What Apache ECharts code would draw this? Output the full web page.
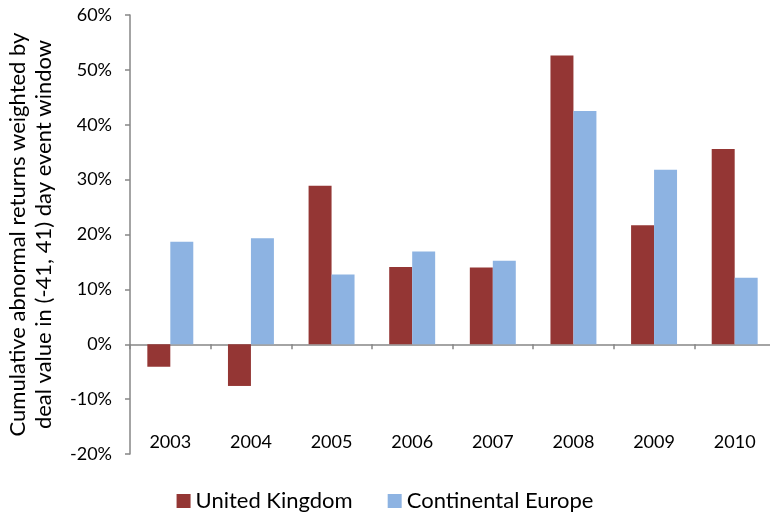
<!DOCTYPE html>
<html><head><meta charset="utf-8">
<script src="https://cdn.jsdelivr.net/npm/echarts@6/dist/echarts.min.js"></script>
<style>html,body{margin:0;padding:0;background:#fff}#c{width:770px;height:518px}</style>
</head><body><div id="c"></div>
<script>
const categories = ['2003','2004','2005','2006','2007','2008','2009','2010'];
const unitedKingdom = [-4.1, -7.6, 28.9, 14.1, 14.0, 52.6, 21.7, 35.6];
const continentalEurope = [18.7, 19.3, 12.7, 16.9, 15.2, 42.5, 31.8, 12.1];
const seriesNames = ['United Kingdom', 'Continental Europe'];
const yTitle = 'Cumulative abnormal returns weighted by\ndeal value in (-41, 41) day event window';
const FONT = 'Lato, "Open Sans", sans-serif';
const chart = echarts.init(document.getElementById('c'));
chart.setOption({
  animation: false,
  textStyle: {fontFamily: FONT},
  grid: {left: 130, right: -5, top: 15, bottom: 64, containLabel: false, outerBoundsMode: 'none'},
  legend: {
    bottom: 1, left: 'center', itemWidth: 14, itemHeight: 14, itemGap: 35,
    icon: 'rect',
    textStyle: {fontSize: 22, color: '#000', fontFamily: FONT},
    data: seriesNames
  },
  xAxis: [{
    type: 'category', data: categories,
    axisLine: {onZero: true, lineStyle: {color: '#868686', width: 1.5}},
    axisTick: {show: true, length: 5, lineStyle: {color: '#868686', width: 1.5}},
    axisLabel: {show: false},
    splitLine: {show: false}
  }, {
    type: 'category', data: categories, position: 'bottom',
    axisLine: {show: false, onZero: false},
    axisTick: {show: false},
    axisLabel: {show: true, interval: 0, margin: -21, fontSize: 18, color: '#000', fontFamily: FONT},
    splitLine: {show: false}
  }],
  yAxis: {
    type: 'value', min: -20, max: 60, interval: 10,
    name: yTitle, nameLocation: 'middle', nameGap: 73, nameRotate: 90,
    nameTextStyle: {fontSize: 22, color: '#000', lineHeight: 26, fontFamily: FONT},
    axisLine: {show: true, lineStyle: {color: '#868686', width: 1.5}},
    axisTick: {show: true, length: 5, lineStyle: {color: '#868686', width: 1.5}},
    axisLabel: {formatter: v => v + '%', fontSize: 18, color: '#000', margin: 18, fontFamily: FONT},
    splitLine: {show: false}
  },
  series: [
    {name: seriesNames[0], type: 'bar', data: unitedKingdom, barGap: '0%', barCategoryGap: '43%',
     itemStyle: {color: '#943634'}},
    {name: seriesNames[1], type: 'bar', data: continentalEurope,
     itemStyle: {color: '#8DB3E2'}}
  ]
});
</script></body></html>
